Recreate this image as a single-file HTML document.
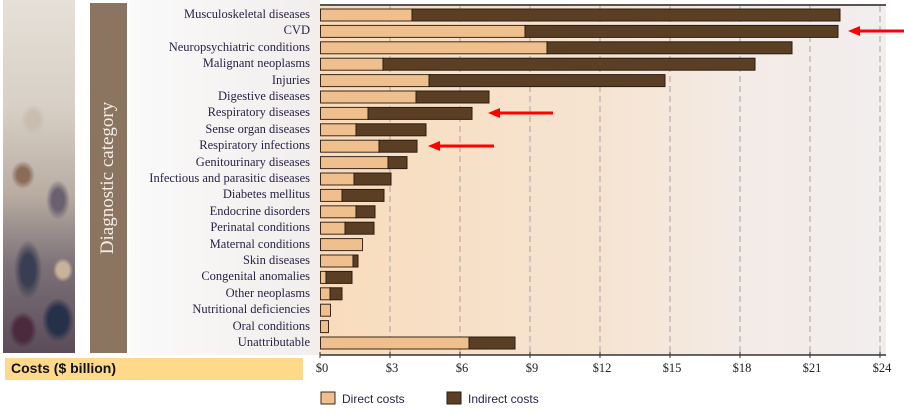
<!DOCTYPE html>
<html><head><meta charset="utf-8"><style>
html,body{margin:0;padding:0;}
body{width:904px;height:413px;position:relative;overflow:hidden;background:#fff;font-family:"Liberation Serif",serif;}
.lab{position:absolute;right:0;font-size:12.5px;color:#2a2346;white-space:nowrap;line-height:14px;}
</style></head><body>
<!-- photo strip -->
<div style="position:absolute;left:3px;top:0;width:72px;height:353px;background:
radial-gradient(ellipse 14px 18px at 20px 330px,#4a2a3c 60%,transparent 100%),
radial-gradient(ellipse 16px 22px at 55px 320px,#253049 60%,transparent 100%),
radial-gradient(ellipse 14px 30px at 25px 270px,#3a3e52 50%,transparent 100%),
radial-gradient(ellipse 10px 12px at 60px 270px,#c9b29a 60%,transparent 100%),
radial-gradient(ellipse 12px 14px at 20px 175px,#8a6c58 50%,transparent 100%),
radial-gradient(ellipse 12px 20px at 55px 200px,#6a6070 50%,transparent 100%),
radial-gradient(ellipse 12px 16px at 30px 120px,#c9bdb0 50%,transparent 100%),
linear-gradient(180deg,#e6e0d8 0%,#d8d0c6 30%,#b9ada2 55%,#7d7278 75%,#5a4c58 100%);"></div>
<!-- brown label bar -->
<div style="position:absolute;left:90px;top:3px;width:37px;height:350px;background:#8b7560;"></div>
<div style="position:absolute;left:108px;top:178px;transform:translate(-50%,-50%) rotate(-90deg);color:#f4ede4;font-size:19px;white-space:nowrap;">Diagnostic category</div>
<!-- label area bg -->
<div style="position:absolute;left:130px;top:0;width:190px;height:355px;background:linear-gradient(90deg,#fafafa,#f1eeec);"></div>
<!-- plot bg -->
<div style="position:absolute;left:320px;top:5px;width:566px;height:350px;background:linear-gradient(90deg,#f8dcbc 0%,#f6e4d2 50%,#f3ebe6 75%,#f2eeee 100%);"></div>
<div style="position:absolute;left:320px;top:4px;width:566px;height:2px;background:#555;"></div>
<div id="labels" style="position:absolute;left:0;top:0;width:310px;height:360px;"></div>
<svg width="904" height="413" style="position:absolute;left:0;top:0" id="svg">
</svg>
<div style="position:absolute;left:5px;top:358px;width:298px;height:22px;background:#ffd98a;"></div>
<div style="position:absolute;left:11px;top:360px;font-size:14px;font-weight:bold;font-family:'Liberation Sans',sans-serif;color:#111;">Costs ($ billion)</div>
<script>
var names=["Musculoskeletal diseases","CVD","Neuropsychiatric conditions","Malignant neoplasms","Injuries","Digestive diseases","Respiratory diseases","Sense organ diseases","Respiratory infections","Genitourinary diseases","Infectious and parasitic diseases","Diabetes mellitus","Endocrine disorders","Perinatal conditions","Maternal conditions","Skin diseases","Congenital anomalies","Other neoplasms","Nutritional deficiencies","Oral conditions","Unattributable"];
var d=[[412,840],[525,838],[547,792],[383,755],[429,665],[416,489],[368,472],[356,426],[379,417],[388,407],[354,391],[342,384],[356,375],[345,374],[362,362],[353,358],[326,352],[330,342],[330,330],[328,328],[469,515]];
var L=document.getElementById('labels'),s='';
var svg='';
for(var k=1;k<=8;k++){var x=320+k*70;svg+='<line x1="'+x+'" y1="6" x2="'+x+'" y2="355" stroke="#a9a2a0" stroke-width="1" stroke-dasharray="6,4"/>';}
for(var i=0;i<21;i++){var cy=15+i*16.4;
s+='<div class="lab" style="top:'+(cy-8)+'px;right:'+(904-310)+'px;position:absolute">'+names[i]+'</div>';
var a=d[i][0],b=d[i][1];
svg+='<rect x="320.5" y="'+(cy-6)+'" width="'+(a-320)+'" height="12" fill="#efbf8e" stroke="#3a2a1c" stroke-width="1"/>';
if(b>a)svg+='<rect x="'+a+'" y="'+(cy-6)+'" width="'+(b-a)+'" height="12" fill="#5a3f25" stroke="#2a1c10" stroke-width="1"/>';}
L.innerHTML=s;
L.querySelectorAll('.lab').forEach(function(e){e.style.right='0px';});
svg+='<line x1="320" y1="355" x2="886" y2="355" stroke="#333" stroke-width="1.5"/>';
var t=['$0','$3','$6','$9','$12','$15','$18','$21','$24'];
for(var k=0;k<9;k++){var x=320+k*70;svg+='<line x1="'+x+'" y1="352" x2="'+x+'" y2="358" stroke="#333"/><text x="'+(x+2)+'" y="372" font-size="12.5" text-anchor="middle" font-family="Liberation Serif" fill="#222">'+t[k]+'</text>';}
svg+='<rect x="321" y="392" width="14" height="12" fill="#efbf8e" stroke="#3a2a1c"/><text x="342" y="403" font-size="12" font-family="Liberation Sans" fill="#2a2346">Direct costs</text>';
svg+='<rect x="447" y="392" width="14" height="12" fill="#5a3f25" stroke="#2a1c10"/><text x="468" y="403" font-size="12" font-family="Liberation Sans" fill="#2a2346">Indirect costs</text>';
function arr(x1,x2,y){return '<line x1="'+(x1+10)+'" y1="'+y+'" x2="'+x2+'" y2="'+y+'" stroke="#f00" stroke-width="3"/><polygon points="'+x1+','+y+' '+(x1+12)+','+(y-5)+' '+(x1+12)+','+(y+5)+'" fill="#f00"/>';}
svg+=arr(848,904,31)+arr(488,553,113)+arr(428,494,146);
document.getElementById('svg').innerHTML=svg;
</script>
</body></html>
